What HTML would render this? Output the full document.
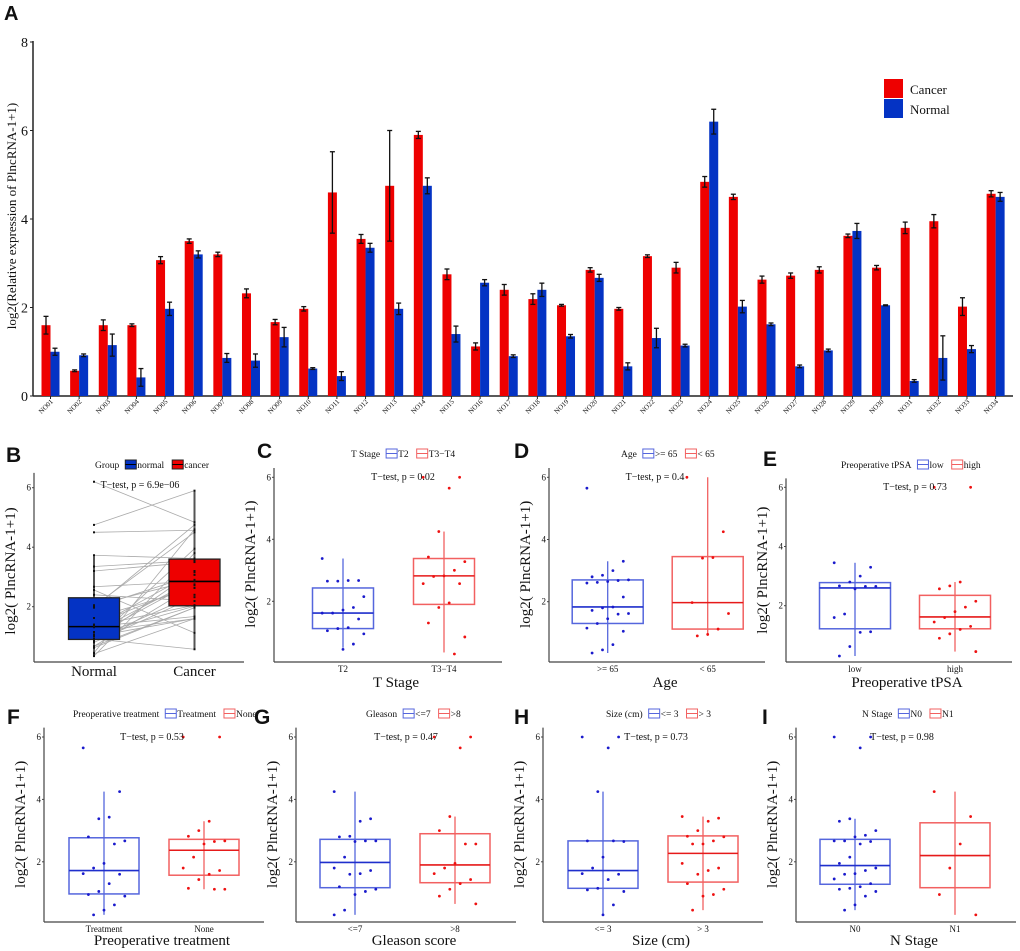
<!DOCTYPE html>
<html><head><meta charset="utf-8"><style>
html,body{margin:0;padding:0;background:#fff}
svg{display:block;font-family:"Liberation Serif",serif}
.lt{font-family:"Liberation Sans",sans-serif;font-weight:bold}
</style></head><body>
<svg id="fig" width="1020" height="951" viewBox="0 0 1020 951" xmlns="http://www.w3.org/2000/svg"></svg>
<script>
// ---------- Panel A data ----------
const sampleLabels = ["NO01","NO02","NO03","NO04","NO05","NO06","NO07","NO08","NO09","NO10","NO11","NO12","NO13","NO14","NO15","NO16","NO17","NO18","NO19","NO20","NO21","NO22","NO23","NO24","NO25","NO26","NO27","NO28","NO29","NO30","NO31","NO32","NO33","NO34"];
const cancerVals = [1.6,0.57,1.6,1.6,3.07,3.5,3.2,2.32,1.67,1.97,4.6,3.55,4.75,5.9,2.75,1.12,2.4,2.19,2.05,2.85,1.97,3.16,2.9,4.84,4.5,2.63,2.72,2.85,3.62,2.9,3.8,3.95,2.02,4.57];
const cancerErr = [0.2,0.02,0.12,0.03,0.08,0.05,0.05,0.1,0.06,0.05,0.92,0.1,1.25,0.08,0.12,0.08,0.12,0.12,0.02,0.05,0.03,0.03,0.12,0.12,0.06,0.08,0.06,0.07,0.04,0.05,0.13,0.15,0.2,0.07];
const normalVals = [1.0,0.92,1.15,0.42,1.97,3.2,0.86,0.8,1.33,0.62,0.45,3.35,1.97,4.75,1.4,2.56,0.9,2.4,1.35,2.67,0.67,1.31,1.14,6.2,2.02,1.62,0.67,1.03,3.73,2.05,0.34,0.86,1.06,4.5];
const normalErr = [0.08,0.03,0.25,0.2,0.15,0.08,0.1,0.15,0.22,0.02,0.1,0.1,0.13,0.18,0.18,0.07,0.03,0.15,0.04,0.08,0.08,0.22,0.03,0.28,0.14,0.03,0.03,0.03,0.17,0.01,0.03,0.5,0.08,0.1];
const aTicks = [0,2,4,6,8];

// ---------- Box panel data ----------
const bLabels = ["Normal","Cancer"];
const bStats = [[0.35,0.9,1.33,2.3,3.7],[0.55,2.03,2.85,3.6,5.9]];
const cLabels = ["T2","T3\u2212T4"];
const cStats = [[0.5,1.12,1.62,2.43,3.38],[0.35,1.9,2.82,3.38,4.25]];
const cPts = [[3.38,2.67,2.67,2.65,2.65,2.15,1.8,1.72,1.62,1.62,1.43,1.15,1.12,1.05,0.95,0.62,0.45],[6,6,5.65,4.25,3.43,3.28,3.0,2.82,2.8,2.57,2.57,1.95,1.8,1.3,0.85,0.3]];
const dLabels = [">= 65","< 65"];
const dStats = [[0.35,1.3,1.83,2.7,3.3],[0.9,1.12,1.97,3.45,6]];
const dPts = [[5.65,3.3,3.0,2.85,2.8,2.7,2.68,2.65,2.62,2.6,2.15,1.83,1.8,1.72,1.62,1.6,1.45,1.3,1.15,1.05,0.62,0.45,0.35],[6,4.25,3.42,3.4,1.97,1.62,1.12,0.95,0.9]];
const eLabels = ["low","high"];
const eStats = [[0.3,1.22,2.6,2.78,3.45],[0.45,1.22,1.62,2.35,2.8]];
const ePts = [[3.45,3.3,3.0,2.8,2.67,2.65,2.65,2.57,1.72,1.6,1.12,1.1,0.62,0.3],[6,6,2.8,2.67,2.57,2.15,1.95,1.8,1.6,1.45,1.3,1.2,1.05,0.9,0.45]];
const fLabels = ["Treatment","None"];
const fStats = [[0.3,0.97,1.72,2.77,4.25],[1.12,1.57,2.37,2.72,3.3]];
const fPts = [[5.65,4.25,3.43,3.38,2.8,2.67,2.57,1.95,1.8,1.62,1.6,1.3,1.05,0.95,0.9,0.62,0.45,0.3],[6,6,3.3,3.0,2.82,2.67,2.65,2.57,2.15,1.8,1.72,1.6,1.43,1.15,1.12,1.12]];
const gLabels = ["<=7",">8"];
const gStats = [[0.3,1.17,1.98,2.72,4.25],[0.65,1.33,1.9,2.9,3.45]];
const gPts = [[4.25,3.38,3.3,2.82,2.8,2.67,2.67,2.65,2.15,1.8,1.72,1.62,1.6,1.2,1.12,1.05,0.95,0.45,0.3],[6,6,5.65,3.45,3.0,2.57,2.57,1.95,1.8,1.62,1.43,1.3,1.12,0.9,0.65]];
const hLabels = ["<= 3","> 3"];
const hStats = [[0.3,1.15,1.72,2.67,4.25],[0.45,1.35,2.27,2.83,3.45]];
const hPts = [[6,6,5.65,4.25,2.67,2.65,2.67,2.15,1.8,1.62,1.6,1.43,1.15,1.1,1.05,0.62,0.3],[3.45,3.4,3.3,3.0,2.82,2.8,2.67,2.57,2.57,1.95,1.8,1.72,1.6,1.3,1.12,0.95,0.9,0.45]];
const iLabels = ["N0","N1"];
const iStats = [[0.45,1.28,1.88,2.72,3.38],[0.3,1.17,2.2,3.25,4.25]];
const iPts = [[6,6,5.65,3.38,3.3,3.0,2.85,2.8,2.67,2.67,2.65,2.57,2.15,1.95,1.8,1.72,1.62,1.6,1.45,1.3,1.2,1.15,1.12,1.05,0.9,0.62,0.45],[4.25,3.45,2.57,1.8,0.95,0.3]];
const boxTicks = [2,4,6];

const NS = "http://www.w3.org/2000/svg";
const svg = document.getElementById("fig");
function mk(tag, attrs, parent, text){
  const e = document.createElementNS(NS, tag);
  for (const k in attrs) e.setAttribute(k, attrs[k]);
  if (text !== undefined) e.textContent = text;
  (parent || svg).appendChild(e);
  return e;
}
function txt(x,y,s,size,anchor,parent,extra){
  const a = {x:x,y:y,"font-size":size,"text-anchor":anchor||"middle",fill:"#111"};
  if (extra) for (const k in extra) a[k]=extra[k];
  return mk("text",a,parent,s);
}
function tw(el, fallback){
  try { const w = el.getComputedTextLength(); if (w>0) return w; } catch(e){}
  return fallback;
}

// ---------- Panel A ----------
(function(){
  const g = mk("g",{});
  
  
  const x0=33, y0=396, k=44.25, bw=9;
  const yA = v => y0 - v*k;
  const gx = i => 50.5 + 28.64*i;
  const lt = txt(4,20,"A",20,"start",g,{"class":"lt"});
  
  
  mk("line",{x1:x0,y1:yA(8)-1,x2:x0,y2:y0,stroke:"#222","stroke-width":1.5},g);
  mk("line",{x1:x0,y1:y0,x2:1013,y2:y0,stroke:"#222","stroke-width":1.5},g);
  aTicks.forEach(t=>{
    mk("line",{x1:x0-3,y1:yA(t),x2:x0,y2:yA(t),stroke:"#222"},g);
    const tl = txt(x0-5,yA(t)+5,String(t),14,"end",g);
    
    
  });
  const yt = txt(0,0,"log2(Relative expression of PlncRNA-1+1)",13,"middle",g,{transform:"translate(16,216) rotate(-90)"});
  
  
  function err(x,v,e){
    mk("line",{x1:x,y1:yA(v+e),x2:x,y2:yA(v-e),stroke:"#111","stroke-width":1.3},g);
    mk("line",{x1:x-2.5,y1:yA(v+e),x2:x+2.5,y2:yA(v+e),stroke:"#111","stroke-width":1.3},g);
    mk("line",{x1:x-2.5,y1:yA(v-e),x2:x+2.5,y2:yA(v-e),stroke:"#111","stroke-width":1.3},g);
  }
  sampleLabels.forEach((lab,i)=>{
    const c = gx(i);
    const rb = mk("rect",{x:c-bw,y:yA(cancerVals[i]),width:bw,height:cancerVals[i]*k,fill:"#ee0000"},g);
    
    
    const nb = mk("rect",{x:c,y:yA(normalVals[i]),width:bw,height:normalVals[i]*k,fill:"#0433c4"},g);
    
    
    err(c-bw/2,cancerVals[i],cancerErr[i]);
    err(c+bw/2,normalVals[i],normalErr[i]);
    mk("line",{x1:c,y1:y0,x2:c,y2:y0+3,stroke:"#222"},g);
    const xl = txt(0,0,lab,7,"end",g,{transform:"translate("+(c+3)+","+(y0+6)+") rotate(-45)"});
    
    
  });
  const lg = mk("g",{},g);
  
  
  mk("rect",{x:884,y:79,width:19,height:19,fill:"#ee0000"},lg);
  mk("rect",{x:884,y:99,width:19,height:19,fill:"#0433c4"},lg);
  txt(910,94,"Cancer",13,"start",lg);
  txt(910,114,"Normal",13,"start",lg);
})();

// ---------- Box panel generic ----------
function boxPanel(o, stats, pts, labels){
  const g = mk("g",{});
  
  
  const ys = v => o.y6 + (6-v)*o.k;
  const blue = o.fill ? "#222" : "#5566dd", red = o.fill ? "#222" : "#f26060";
  const cols = [blue, red];
  const medCols = o.fill ? ["#000","#000"] : ["#1f2fcc","#e61a1a"];
  const ptCols = ["#1a1acc","#ee1111"];
  const pl = txt(o.lx,o.ly,o.id.toUpperCase(),21,"start",g,{"class":"lt"});
  
  
  mk("line",{x1:o.ax,y1:ys(o.top),x2:o.ax,y2:o.bot,stroke:"#444","stroke-width":1.2},g);
  mk("line",{x1:o.ax,y1:o.bot,x2:o.ax+o.w,y2:o.bot,stroke:"#444","stroke-width":1.2},g);
  boxTicks.forEach(t=>{
    mk("line",{x1:o.ax-2,y1:ys(t),x2:o.ax,y2:ys(t),stroke:"#444"},g);
    const tl = txt(o.ax-3,ys(t)+3,String(t),9,"end",g);
    
    
  });
  const yt = txt(0,0,"log2( PlncRNA-1+1)",15,"middle",g,{transform:"translate("+(o.ax-19)+","+(ys(3.2))+") rotate(-90)"});
  
  
  if (o.fill){
    normalVals.forEach((v,i)=>{
      mk("line",{x1:o.cx[0],y1:ys(v),x2:o.cx[1],y2:ys(cancerVals[i]),stroke:"#aaa","stroke-width":0.8},g);
    });
  }
  stats.forEach((s,j)=>{
    const c=o.cx[j], hw=o.bw/2;
    const bg = mk("g",{},g);
    
    
    mk("line",{x1:c,y1:ys(s[0]),x2:c,y2:ys(s[4]),stroke:o.fill?"#555":cols[j],"stroke-width":o.fill?2:1.3},bg);
    mk("rect",{x:c-hw,y:ys(s[3]),width:o.bw,height:ys(s[1])-ys(s[3]),fill:o.fill?o.fill[j]:"none",stroke:cols[j],"stroke-width":o.fill?1.3:1.5},bg);
    mk("line",{x1:c-hw,y1:ys(s[2]),x2:c+hw,y2:ys(s[2]),stroke:medCols[j],"stroke-width":1.6},bg);
    const xl = txt(c,o.bot+(o.fill?14:10),labels[j],o.fill?15:9,"middle",g);
    
    
  });
  if (o.fill){
    normalVals.forEach(v=>mk("rect",{x:o.cx[0]-1,y:ys(v)-1,width:2,height:2,fill:"#111"},g));
    cancerVals.forEach(v=>mk("rect",{x:o.cx[1]-1,y:ys(v)-1,width:2,height:2,fill:"#111"},g));
  } else {
    pts.forEach((arr,j)=>arr.forEach((v,i)=>{
      const jx = (((i*7)%9)-4)*5.2;
      const p = mk("circle",{cx:o.cx[j]+jx,cy:ys(v),r:1.4,fill:ptCols[j]},g);
      
      
    }));
  }
  const tt = txt(o.tx,o.ty,o.ttest,10,"middle",g);
  
  
  if (o.title){
    const at = txt(o.ax+o.w/2+8,o.bot+o.tdy,o.title,15,"middle",g);
    
    
  }
  const lg = mk("g",{},g);
  
  
  let x = o.legX;
  const ly = o.legY;
  const t0 = txt(x,ly+4,o.legTitle,9.5,"start",lg);
  x += tw(t0, o.legTitle.length*4.3) + 6;
  o.legItems.forEach((it,j)=>{
    const col = o.fill ? o.fill[j] : (j?"#f26060":"#5566dd");
    mk("rect",{x:x,y:ly-4,width:11,height:9,fill:o.fill?col:"none",stroke:o.fill?"#222":col,"stroke-width":1},lg);
    mk("line",{x1:x,y1:ly+0.5,x2:x+11,y2:ly+0.5,stroke:o.fill?"#000":col},lg);
    const ti = txt(x+12,ly+4,it,9.5,"start",lg);
    x += 12 + tw(ti, it.length*4.5) + 8;
  });
}

boxPanel({id:"b",lx:6,ly:462,ax:34,bot:662,w:210,y6:487.7,k:29.75,top:6.5,cx:[94,194.5],bw:51,fill:["#0433c4","#ee0000"],
  tx:140,ty:488,ttest:"T\u2212test, p = 6.9e\u221206",legX:95,legY:464,legTitle:"Group",legItems:["normal","cancer"]},bStats,null,bLabels);
boxPanel({id:"c",lx:257,ly:458,ax:274,bot:662,w:228,y6:477.3,k:31,top:6.3,cx:[343,444],bw:61,tdy:25,
  tx:403,ty:480,ttest:"T\u2212test, p = 0.02",legX:351,legY:453,legTitle:"T Stage",legItems:["T2","T3\u2212T4"],title:"T Stage"},cStats,cPts,cLabels);
boxPanel({id:"d",lx:514,ly:458,ax:549,bot:662,w:216,y6:477.3,k:31.1,top:6.3,cx:[607.7,707.7],bw:71,tdy:25,
  tx:655,ty:480,ttest:"T\u2212test, p = 0.4",legX:621,legY:453,legTitle:"Age",legItems:[">= 65","< 65"],title:"Age"},dStats,dPts,dLabels);
boxPanel({id:"e",lx:763,ly:466,ax:786,bot:662,w:226,y6:487.3,k:29.6,top:6.3,cx:[855,955],bw:71,tdy:25,
  tx:915,ty:490,ttest:"T\u2212test, p = 0.73",legX:841,legY:464,legTitle:"Preoperative tPSA",legItems:["low","high"],title:"Preoperative tPSA"},eStats,ePts,eLabels);
boxPanel({id:"f",lx:7,ly:724,ax:44,bot:922,w:220,y6:737,k:31.2,top:6.3,cx:[104,204],bw:70,tdy:23,
  tx:152,ty:740,ttest:"T\u2212test, p = 0.53",legX:73,legY:713,legTitle:"Preoperative treatment",legItems:["Treatment","None"],title:"Preoperative treatment"},fStats,fPts,fLabels);
boxPanel({id:"g",lx:254,ly:724,ax:296,bot:922,w:220,y6:737,k:31.2,top:6.3,cx:[355,455],bw:70,tdy:23,
  tx:406,ty:740,ttest:"T\u2212test, p = 0.47",legX:366,legY:713,legTitle:"Gleason",legItems:["<=7",">8"],title:"Gleason score"},gStats,gPts,gLabels);
boxPanel({id:"h",lx:514,ly:724,ax:543,bot:922,w:220,y6:737,k:31.2,top:6.3,cx:[603,703],bw:70,tdy:23,
  tx:656,ty:740,ttest:"T\u2212test, p = 0.73",legX:606,legY:713,legTitle:"Size (cm)",legItems:["<= 3","> 3"],title:"Size (cm)"},hStats,hPts,hLabels);
boxPanel({id:"i",lx:762,ly:724,ax:796,bot:922,w:220,y6:737,k:31.2,top:6.3,cx:[855,955],bw:70,tdy:23,
  tx:902,ty:740,ttest:"T\u2212test, p = 0.98",legX:862,legY:713,legTitle:"N Stage",legItems:["N0","N1"],title:"N Stage"},iStats,iPts,iLabels);
</script>
</body></html>
